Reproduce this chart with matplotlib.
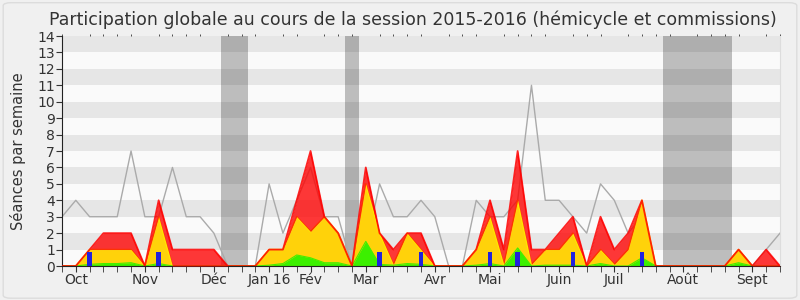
import numpy as np
import matplotlib.pyplot as plt
from matplotlib.patches import FancyBboxPatch

# weekly values, session 2015-2016 (53 weeks)
weeks = np.arange(53)

total = [0, 0, 1, 2, 2, 2, 0, 4, 1, 1, 1, 1, 0, 0, 0, 1, 1, 4, 7, 3, 2, 0,
         6, 2, 1, 2, 2, 0, 0, 0, 1, 4, 1, 7, 1, 1, 2, 3, 0, 3, 1, 2, 4, 0,
         0, 0, 0, 0, 0, 1, 0, 1, 0]
commission = [0, 0, 1, 1, 1, 1, 0, 3, 0, 0, 0, 0, 0, 0, 0, 1, 1, 3, 2.1, 3, 2, 0,
              5, 2, 0.1, 2, 1, 0, 0, 0, 1, 3, 0.1, 4, 0.1, 1, 1, 2, 0, 1, 0.1, 1, 4, 0,
              0, 0, 0, 0, 0, 1, 0, 0, 0]
hemicycle = [0, 0, 0.1, 0.15, 0.15, 0.2, 0, 0.15, 0, 0, 0, 0, 0, 0, 0, 0.05, 0.15, 0.67, 0.5, 0.2, 0.2, 0,
             1.5, 0.1, 0.05, 0.15, 0.1, 0, 0, 0, 0.05, 0.15, 0, 1.1, 0, 0.05, 0.05, 0.05, 0, 0.15, 0, 0, 0.5, 0,
             0, 0, 0, 0, 0, 0.2, 0, 0, 0]
mediane = [3, 4, 3, 3, 3, 7, 3, 3, 6, 3, 3, 2, 0, 0, 0, 5, 2, 4, 6, 3, 3, 0,
           1, 5, 3, 3, 4, 3, 0, 0, 4, 3, 3, 4, 11, 4, 4, 3, 2, 5, 4, 2, 3, 0,
           0, 0, 0, 0, 0, 1, 0, 1, 2]

question_weeks = [2, 7, 23, 26, 31, 33, 37, 42]
question_heights = [0.87, 0.87, 0.87, 0.87, 0.87, 0.87, 0.87, 0.87]

vacances = [(11.5, 13.5), (20.5, 21.5), (43.5, 48.5)]

month_pos = [1, 6, 11, 15, 18, 22, 27, 31, 36, 40, 45, 50]
month_labels = ["Oct", "Nov", "Déc", "Jan 16", "Fév", "Mar", "Avr", "Mai",
                "Juin", "Juil", "Août", "Sept"]

fig = plt.figure(figsize=(8, 3), dpi=100, facecolor="#f0f0f0")
fig.patches.append(FancyBboxPatch((0.004, 0.006), 0.992, 0.985, boxstyle="round,pad=0,rounding_size=0.01",
                                  transform=fig.transFigure, facecolor="none", edgecolor="#dcdcdc", lw=1))
ax = fig.add_axes([0.0775, 0.1133, 0.8975, 0.7667])
ax.set_facecolor("#fafafa")

for a, b in vacances:
    ax.axvspan(a, b, color="#bdbdbd", lw=0, zorder=0.5)
for k in range(1, 14, 2):
    ax.axhspan(k, k + 1, color="black", alpha=0.08, lw=0, zorder=0.6)

ax.plot(weeks, mediane, color="#aaaaaa", lw=1, zorder=1)

ax.fill_between(weeks, 0, commission, color="#ffd20a", lw=0, zorder=2)
ax.plot(weeks, commission, color="#ffe800", lw=1.2, zorder=2.1)
ax.fill_between(weeks, 0, hemicycle, color="#3cf000", lw=0, zorder=2.2)
ax.plot(weeks, hemicycle, color="#44ee00", lw=0.8, zorder=2.3)
ax.fill_between(weeks, commission, total, color="#ff0000", alpha=0.78, lw=0, zorder=3)
ax.plot(weeks, total, color="#ff0000", alpha=0.85, lw=1.3, zorder=3.1)

ax.bar(question_weeks, question_heights, width=0.33, color="#2222dd", zorder=4)

ax.set_xlim(0, 52)
ax.set_ylim(0, 14)
ax.set_yticks(range(15))
ax.tick_params(axis="y", labelsize=10, length=4, color="#333333", labelcolor="#333333", pad=1)
ax.set_xticks(weeks, minor=True)
ax.set_xticks(month_pos)
ax.set_xticklabels(month_labels)
ax.tick_params(axis="x", which="both", length=4, color="#333333", labelsize=10, labelcolor="#333333", pad=1)
ax.tick_params(axis="x", which="minor", top=True, bottom=True)
ax.tick_params(axis="x", which="major", top=False)
for t in ax.xaxis.get_minor_ticks():
    t.tick2line.set_markersize(1.5)
    t.tick2line.set_color("#555555")

ax.spines["top"].set_visible(False)
ax.spines["right"].set_color("#dddddd")
ax.spines["left"].set_color("#222222")
ax.spines["bottom"].set_color("#222222")

ax.set_ylabel("Séances par semaine", fontsize=10.5, color="#333333", labelpad=8)
fig.text(0.516, 0.935, "Participation globale au cours de la session 2015-2016 (hémicycle et commissions)",
         ha="center", va="center", fontsize=12.5, color="#333333")

fig.savefig("out.png", dpi=100, facecolor=fig.get_facecolor())
